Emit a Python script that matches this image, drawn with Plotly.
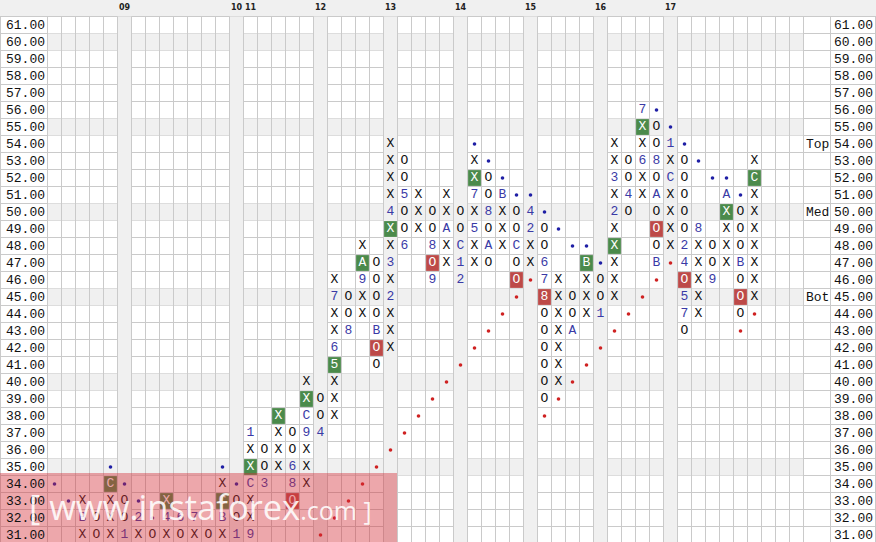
import plotly.graph_objects as go

# ---------------- data ----------------
prices = list(range(61, 30, -1))                 # 61 .. 31
price_labels = [f"{p:.2f}" for p in prices]
year_labels = ["09", "10", "11", "12", "13", "14", "15", "16", "17"]
year_cols = [5, 13, 14, 19, 24, 29, 34, 39, 44]
shade_cols = [5, 13, 19, 24, 29, 34, 39, 44]
shade_rows = [60, 55, 50, 45, 40, 35]
level_labels = ["Top", "Med", "Bot"]
level_prices = [54, 50, 45]

# point & figure columns
col_ids = list(range(2, 51))
col_kind = list("XOXOXOXOXOXOXOXOXOXOXOXOXOXOXOXOXOXOXOXOXOXOXOXOX")
col_low = [31, 31, 31, 31, 31, 31, 31, 31, 31, 31, 31, 31, 31,
           34, 35, 33, 34, 37, 38, 43, 44, 41, 42, 48, 49, 46, 47, 46, 47, 47, 48, 46, 47,
           39, 40, 43, 44, 44, 45, 50, 51, 47, 48, 43, 44, 46, 47, 44, 45]
col_high = [33, 32, 34, 33, 32, 31, 33, 32, 32, 31, 34, 33, 37,
            36, 38, 37, 40, 39, 46, 45, 48, 47, 54, 53, 51, 50, 51, 50, 53, 52, 51, 50, 50,
            49, 46, 45, 47, 46, 54, 53, 56, 55, 54, 53, 49, 48, 51, 50, 53]

# month markers (replace an X / O)
month_col = [2, 5, 6, 8, 9, 10, 12, 13, 14, 14, 14, 15, 17, 17, 18, 18, 19, 20, 20, 21,
             22, 23, 24, 24, 24, 25, 25, 27, 27, 28, 29, 29, 29, 30, 30, 31, 31, 32, 33,
             34, 34, 35, 35, 37, 39, 40, 40, 41, 42, 42, 43, 43, 43, 44, 44, 45, 45, 45,
             45, 46, 47, 48, 49]
month_row = [32, 31, 32, 32, 32, 32, 32, 31, 31, 34, 37, 34, 35, 34, 37, 38, 37, 42, 45, 43,
             46, 43, 45, 47, 50, 51, 48, 48, 46, 49, 48, 47, 46, 49, 51, 50, 48, 51, 48,
             49, 50, 47, 46, 43, 44, 50, 52, 51, 53, 56, 53, 51, 47, 52, 54, 48, 47, 45,
             44, 49, 46, 51, 47]
month_txt = ["B", "1", "2", "4", "6", "7", "B", "1", "9", "C", "1", "3", "6", "8", "9", "C", "4", "6", "7", "8",
             "9", "B", "2", "3", "4", "5", "6", "8", "9", "A", "C", "1", "2", "5", "7", "8", "A", "B", "C",
             "2", "4", "6", "7", "A", "1", "2", "3", "4", "6", "7", "8", "A", "B", "C", "1", "2", "4", "5",
             "7", "8", "9", "A", "B"]

# highlighted boxes
box_col = [4, 8, 12, 14, 16, 17, 18, 20, 22, 23, 24, 27, 30, 33, 35, 38, 40, 42, 43, 45, 48, 49, 50]
box_row = [34, 33, 33, 35, 38, 33, 39, 41, 47, 42, 49, 47, 52, 46, 45, 47, 48, 55, 49, 46, 50, 45, 52]
box_txt = ["C", "X", "C", "X", "X", "O", "X", "5", "A", "O", "X", "O", "X", "O", "8", "B", "X", "X", "O", "O", "X", "O", "C"]
box_kind = ["g", "g", "g", "g", "g", "r", "g", "g", "g", "r", "g", "r", "g", "r", "r", "g", "g", "g", "r", "r", "g", "r", "g"]

# trend-line dots
blue_dot_col = [0, 1, 4, 5, 6, 7, 12, 13, 30, 31, 32, 33, 34, 35, 36, 37, 38, 39, 43, 44, 45, 46, 47, 48, 49]
blue_dot_row = [34, 33, 35, 34, 33, 32, 35, 34, 54, 53, 52, 51, 51, 50, 49, 48, 48, 47, 56, 55, 54, 53, 52, 52, 51]
red_dot_col = [19, 20, 21, 22, 23, 24, 25, 26, 27, 28, 29, 30, 31, 32, 33, 34,
               35, 36, 37, 38, 39, 40, 41, 42, 43, 44, 49, 50]
red_dot_row = [31, 32, 33, 34, 35, 36, 37, 38, 39, 40, 41, 42, 43, 44, 45, 46,
               38, 39, 40, 41, 42, 43, 44, 45, 46, 47, 43, 44]

# ---------------- geometry ----------------
W, H = 876, 542
CW, RH = 14, 17
X_C0 = 54.5   # pixel centre of column 0
Y_R61 = 25.0  # pixel centre of row 61
NCOL = 54


def xd(px):
    return (px - X_C0) / CW


def yd(py):
    return 61 - (py - Y_R61) / RH


XR = [xd(0), xd(W)]
YR = [yd(H), yd(0)]
GRID_TOP = 61.5
GRID_BOT = YR[0]
MONO = "Liberation Mono, Courier New, monospace"
GRID_CLR = "#cacaca"
BAND_CLR = "#f0f0f0"
GREEN = "#4b8a4b"
RED = "#bd4a48"
MONTH_CLR = "#3a3aa6"

# ---------------- build cells ----------------
cells = {}
for c, k, lo, hi in zip(col_ids, col_kind, col_low, col_high):
    for r in range(lo, hi + 1):
        cells[(c, r)] = k
months = {(c, r): t for c, r, t in zip(month_col, month_row, month_txt)}
boxes = {(c, r): (t, k) for c, r, t, k in zip(box_col, box_row, box_txt, box_kind)}

plain_x, plain_y, plain_t = [], [], []
for (c, r), k in cells.items():
    if (c, r) in months or (c, r) in boxes:
        continue
    plain_x.append(c)
    plain_y.append(r)
    plain_t.append(k)

shapes = []
# top strip
shapes.append(dict(type="rect", xref="paper", yref="paper", x0=0, x1=1, y0=1 - 16.5 / H, y1=1,
                   fillcolor=BAND_CLR, line_width=0, layer="below"))
# shaded rows
for p in shade_rows:
    shapes.append(dict(type="rect", xref="x", yref="y", x0=-0.5, x1=NCOL - 0.5, y0=p - 0.5, y1=p + 0.5,
                       fillcolor=BAND_CLR, line_width=0, layer="below"))
# shaded columns
for c in shade_cols:
    shapes.append(dict(type="rect", xref="x", yref="y", x0=c - 0.5, x1=c + 0.5, y0=GRID_BOT, y1=GRID_TOP,
                       fillcolor=BAND_CLR, line_width=0, layer="below"))
# horizontal grid lines
for p in range(30, 62):
    shapes.append(dict(type="line", xref="paper", yref="y", x0=0, x1=1, y0=p + 0.5, y1=p + 0.5,
                       line=dict(color=GRID_CLR, width=1), layer="below"))
# vertical grid lines
for c in range(0, NCOL + 1):
    shapes.append(dict(type="line", xref="x", yref="y", x0=c - 0.5, x1=c - 0.5, y0=GRID_BOT, y1=GRID_TOP,
                       line=dict(color=GRID_CLR, width=1), layer="below"))
for px in [0.5, 830.5, W - 0.5]:
    shapes.append(dict(type="line", xref="x", yref="y", x0=xd(px), x1=xd(px), y0=GRID_BOT, y1=GRID_TOP,
                       line=dict(color=GRID_CLR, width=1), layer="below"))
# highlighted boxes
ix, iy = 0.6 / CW, 0.6 / RH
for (c, r), (t, k) in boxes.items():
    shapes.append(dict(type="rect", xref="x", yref="y", x0=c - 0.5 + ix, x1=c + 0.5 - ix,
                       y0=r - 0.5 + iy, y1=r + 0.5 - iy, fillcolor=GREEN if k == "g" else RED,
                       line_width=0, layer="below"))
# watermark band
shapes.append(dict(type="rect", xref="paper", yref="paper", x0=0, x1=397 / W, y0=0, y1=1 - 473 / H,
                   fillcolor="rgba(212,45,55,0.42)", line_width=0, layer="above"))

fig = go.Figure()
fig.add_trace(go.Scatter(x=plain_x, y=plain_y, text=plain_t, mode="text",
                         textfont=dict(family=MONO, size=13, color="#111111"),
                         textposition="middle center", hoverinfo="skip"))
fig.add_trace(go.Scatter(x=month_col, y=month_row, text=month_txt, mode="text",
                         textfont=dict(family=MONO, size=13, color=MONTH_CLR),
                         textposition="middle center", hoverinfo="skip"))
fig.add_trace(go.Scatter(x=box_col, y=box_row, text=box_txt, mode="text",
                         textfont=dict(family=MONO, size=13, color="#ffffff"),
                         textposition="middle center", hoverinfo="skip"))
fig.add_trace(go.Scatter(x=blue_dot_col, y=blue_dot_row, mode="markers",
                         marker=dict(symbol="circle", size=3.6, color="#1f1fa5"), hoverinfo="skip"))
fig.add_trace(go.Scatter(x=red_dot_col, y=red_dot_row, mode="markers",
                         marker=dict(symbol="circle", size=3.6, color="#cf2222"), hoverinfo="skip"))

annotations = []
for p, lab in zip(prices, price_labels):
    annotations.append(dict(xref="paper", yref="y", x=4 / W, y=p, text=lab, showarrow=False,
                            xanchor="left", yanchor="middle",
                            font=dict(family=MONO, size=13, color="#111111")))
    annotations.append(dict(xref="paper", yref="y", x=832 / W, y=p, text=lab, showarrow=False,
                            xanchor="left", yanchor="middle",
                            font=dict(family=MONO, size=13, color="#111111")))
for p, lab in zip(level_prices, level_labels):
    annotations.append(dict(xref="paper", yref="y", x=803.5 / W, y=p, text=lab, showarrow=False,
                            xanchor="left", yanchor="middle",
                            font=dict(family=MONO, size=13, color="#111111")))
for c, lab in zip(year_cols, year_labels):
    annotations.append(dict(xref="x", yref="paper", x=c, y=1 - 7.5 / H, text="<b>" + lab + "</b>",
                            showarrow=False, xanchor="center", yanchor="middle",
                            font=dict(family="DejaVu Sans", size=8, color="#222222")))
annotations.append(dict(xref="paper", yref="paper", x=27 / W, y=1 - 506 / H,
                        text="[ www.instaforex<span style='font-size:25px'>.com ]</span>",
                        showarrow=False, xanchor="left", yanchor="middle",
                        font=dict(family="Open Sans", size=34.5, color="rgba(255,255,255,0.88)")))

fig.update_layout(
    width=W, height=H, autosize=False,
    margin=dict(l=0, r=0, t=0, b=0, pad=0),
    paper_bgcolor="#ffffff", plot_bgcolor="#ffffff",
    showlegend=False,
    xaxis=dict(range=XR, visible=False, fixedrange=True),
    yaxis=dict(range=YR, visible=False, fixedrange=True),
    shapes=shapes, annotations=annotations,
)

fig.write_html("out.html", config={"displayModeBar": False, "staticPlot": True},
               post_script="document.body.style.margin='0px';")
